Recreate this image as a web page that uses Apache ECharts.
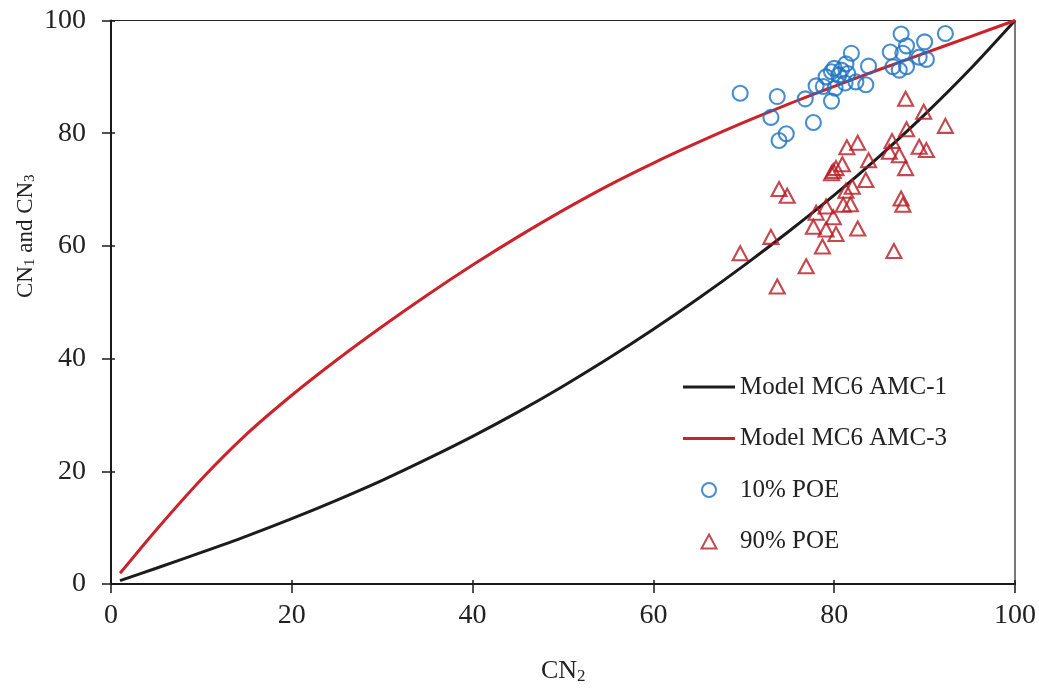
<!DOCTYPE html>
<html>
<head>
<meta charset="utf-8">
<script src="https://cdn.jsdelivr.net/npm/echarts@6/dist/echarts.min.js"></script>
<style>
html,body{margin:0;padding:0;background:#fff;}
#chart{width:1039px;height:690px;}
</style>
</head>
<body>
<div id="chart"></div>
<script>
// ---- data ----
const curveX = [1, 5, 10, 15, 20, 25, 30, 35, 40, 45, 50, 55, 60, 65, 70, 75, 80, 85, 90, 95, 100];
const amc1Y  = [0.6, 2.8, 5.6, 8.5, 11.6, 14.9, 18.4, 22.2, 26.2, 30.5, 35.1, 40.0, 45.2, 50.7, 56.5, 62.6, 69.0, 75.9, 83.3, 91.3, 100];
const amc3Y  = [1.9, 9.6, 18.6, 26.6, 33.5, 39.8, 45.7, 51.3, 56.6, 61.6, 66.3, 70.7, 74.7, 78.4, 81.9, 85.2, 88.3, 91.3, 94.2, 97.1, 100];

const poe10X = [69.6, 73.7, 73.0, 74.7, 73.9, 77.7, 76.8, 79.7, 78.0, 78.8, 80.1, 79.1, 79.7, 80.0, 80.8, 81.3, 81.9, 81.2, 82.4, 83.5, 83.8, 86.2, 87.4, 88.0, 87.6, 86.5, 87.2, 88.0, 90.0, 89.4, 90.2, 92.3, 80.5, 81.5];
const poe10Y = [87.1, 86.5, 82.8, 79.9, 78.7, 81.9, 86.1, 85.7, 88.4, 88.3, 88.0, 90.0, 90.9, 91.5, 91.2, 92.3, 94.2, 88.9, 89.1, 88.6, 91.9, 94.4, 97.6, 95.5, 94.2, 91.8, 91.2, 91.8, 96.2, 93.5, 93.1, 97.7, 90.3, 90.6];

const poe90X = [87.9, 89.9, 92.3, 88.0, 81.4, 82.6, 86.4, 86.1, 87.2, 89.4, 90.2, 87.9, 83.8, 80.9, 80.2, 79.9, 79.7, 83.5, 73.9, 74.8, 81.3, 82.0, 81.0, 81.8, 87.4, 87.6, 79.1, 78.0, 79.9, 77.7, 79.1, 80.2, 82.6, 73.0, 69.6, 78.7, 86.6, 76.9, 73.7];
const poe90Y = [86.1, 83.8, 81.3, 80.7, 77.5, 78.3, 78.6, 76.7, 76.1, 77.6, 77.0, 73.8, 75.2, 74.5, 73.8, 73.3, 72.9, 71.7, 70.1, 68.9, 69.8, 70.5, 67.3, 67.4, 68.4, 67.3, 67.0, 65.9, 65.1, 63.4, 62.9, 62.1, 63.1, 61.6, 58.7, 59.9, 59.1, 56.4, 52.8];

const axisMin = 0, axisMax = 100, axisStep = 20;
const seriesNames = ['Model MC6 AMC-1', 'Model MC6 AMC-3', '10% POE', '90% POE'];

// ---- chart ----
const zip = (a, b) => a.map((v, i) => [v, b[i]]);
const FONT = '"Liberation Serif", "Times New Roman", serif';
const BLACK = '#1c1c1c', RED = '#cc2229', BLUE = '#1a72c2', TRI = '#b81a23';
const chart = echarts.init(document.getElementById('chart'), null, {renderer: 'canvas'});

const baseAxis = {
  min: axisMin, max: axisMax, interval: axisStep, type: 'value',
  splitLine: {show: false}
};
const lineIcon = 'path://M0,0H52V3H0Z';
const triIcon = 'path://M7.5,0L15,14H0Z';

chart.setOption({
  backgroundColor: '#ffffff',
  animation: false,
  grid: {left: 111, right: 23.5, top: 20.5, bottom: 106, show: true, borderColor: '#222', borderWidth: 1.2, backgroundColor: 'transparent'},
  xAxis: [
    Object.assign({}, baseAxis, {
      position: 'bottom',
      axisLine: {show: true, onZero: false, lineStyle: {color: '#1a1a1a', width: 2}},
      axisTick: {show: true, inside: false, length: 9, lineStyle: {color: '#1a1a1a', width: 1.5}},
      axisLabel: {color: '#222', fontFamily: FONT, fontSize: 28, margin: 18}
    }),
    Object.assign({}, baseAxis, {
      position: 'bottom',
      axisLine: {show: false, onZero: false},
      axisTick: {show: true, inside: true, length: 4, lineStyle: {color: '#1a1a1a', width: 1.5}},
      axisLabel: {show: false}
    })
  ],
  yAxis: [
    Object.assign({}, baseAxis, {
      position: 'left',
      axisLine: {show: true, onZero: false, lineStyle: {color: '#1a1a1a', width: 2}},
      axisTick: {show: true, inside: false, length: 9, lineStyle: {color: '#1a1a1a', width: 1.5}},
      axisLabel: {color: '#222', fontFamily: FONT, fontSize: 28, margin: 25}
    }),
    Object.assign({}, baseAxis, {
      position: 'left',
      axisLine: {show: false, onZero: false},
      axisTick: {show: true, inside: true, length: 4, lineStyle: {color: '#1a1a1a', width: 1.5}},
      axisLabel: {show: false}
    })
  ],
  legend: {
    left: 683, top: 374, orient: 'vertical', padding: 0,
    itemWidth: 52, itemHeight: 14, itemGap: 25.5,
    textStyle: {fontFamily: FONT, fontSize: 25, color: '#222', lineHeight: 26},
    data: [
      {name: seriesNames[0], icon: lineIcon},
      {name: seriesNames[1], icon: lineIcon},
      {name: seriesNames[2], icon: 'circle'},
      {name: seriesNames[3], icon: triIcon}
    ]
  },
  graphic: [
    {
      type: 'text', x: 541, y: 658,
      style: {
        text: 'CN{s|2}', fontFamily: FONT, fontSize: 26, fill: '#222',
        rich: {s: {fontFamily: FONT, fontSize: 17, fill: '#222', verticalAlign: 'bottom', padding: [10, 0, 0, 0]}}
      }
    },
    {
      type: 'text', x: 14, y: 298, rotation: Math.PI / 2,
      style: {
        text: 'CN{s|1} and CN{s|3}', fontFamily: FONT, fontSize: 23, fill: '#222',
        rich: {s: {fontFamily: FONT, fontSize: 15, fill: '#222', verticalAlign: 'bottom', padding: [9, 0, 0, 0]}}
      }
    }
  ],
  series: [
    {
      name: seriesNames[0], type: 'line', data: zip(curveX, amc1Y), smooth: 0.3,
      symbol: 'none', lineStyle: {color: BLACK, width: 3}, itemStyle: {color: BLACK}, z: 3
    },
    {
      name: seriesNames[1], type: 'line', data: zip(curveX, amc3Y), smooth: 0.3,
      symbol: 'none', lineStyle: {color: RED, width: 3}, itemStyle: {color: RED}, z: 3
    },
    {
      name: seriesNames[2], type: 'scatter', data: zip(poe10X, poe10Y),
      symbol: 'circle', symbolSize: 15,
      itemStyle: {color: 'rgba(255,255,255,0)', borderColor: BLUE, borderWidth: 2.1}, z: 4
    },
    {
      name: seriesNames[3], type: 'scatter', data: zip(poe90X, poe90Y),
      symbol: 'triangle', symbolSize: [15, 14],
      itemStyle: {color: 'rgba(255,255,255,0)', borderColor: TRI, borderWidth: 2.1}, z: 4
    }
  ]
});
</script>
</body>
</html>
